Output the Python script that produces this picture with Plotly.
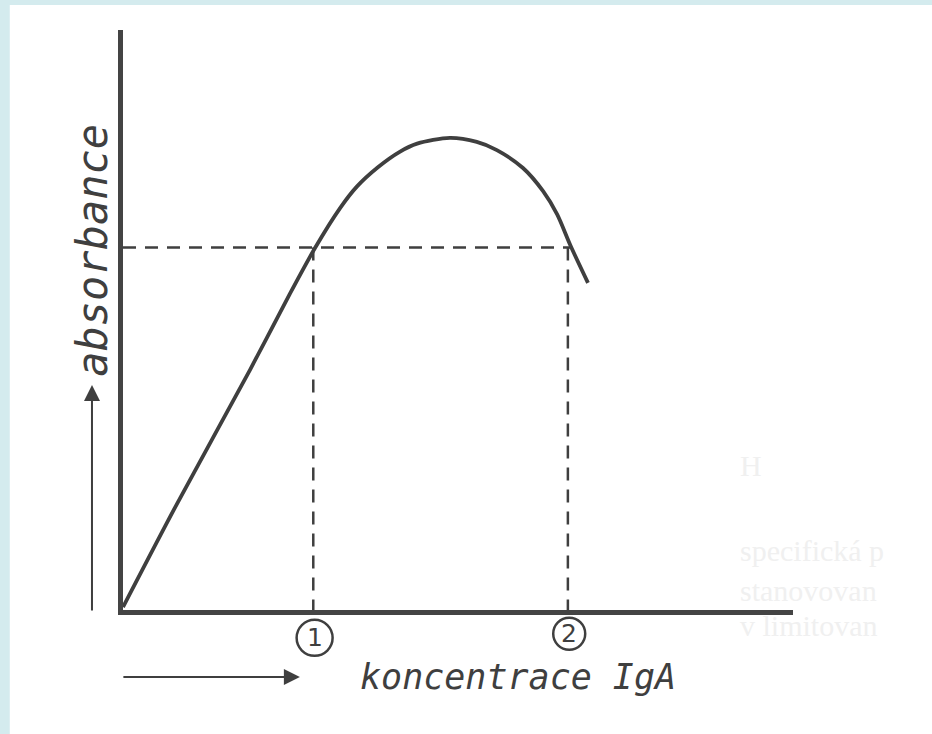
import plotly.graph_objects as go

# curve (concentration vs absorbance, arbitrary units)
conc = [0, 0.81, 1.90, 2.49, 2.87, 3.24, 3.49, 3.80, 4.13, 4.39, 4.88, 5.28, 5.58, 5.97, 6.27, 6.48, 6.68, 6.94]
absorb = [0.05, 1.84, 4.15, 5.45, 6.25, 6.93, 7.30, 7.63, 7.90, 8.04, 8.14, 8.07, 7.93, 7.62, 7.22, 6.82, 6.28, 5.64]

# the two concentrations giving the same absorbance
level = 6.25
point_x = [2.84, 6.64]
point_labels = ["1", "2"]

X_RANGE = [0, 10]
Y_RANGE = [0, 10]
PLOT_W, PLOT_H = 670, 580
ink = "#3f3f3f"


def xp(v):
    return (v - X_RANGE[0]) / (X_RANGE[1] - X_RANGE[0])


def yp(v):
    return (v - Y_RANGE[0]) / (Y_RANGE[1] - Y_RANGE[0])


fig = go.Figure()

# dashed guides
fig.add_trace(go.Scatter(
    x=[0, conc[-2]], y=[level, level], mode="lines",
    line=dict(color=ink, width=2.5, dash="13px,9px"), hoverinfo="skip",
))
for px_ in point_x:
    fig.add_trace(go.Scatter(
        x=[px_, px_], y=[level, 0], mode="lines",
        line=dict(color=ink, width=2.5, dash="13px,9px"), hoverinfo="skip",
    ))

fig.add_trace(go.Scatter(
    x=conc, y=absorb, mode="lines",
    line=dict(color=ink, width=3.8, shape="spline", smoothing=0.8),
))

shapes = [dict(type="rect", xref="paper", yref="paper",
               x0=-0.169, x1=1.21, y0=-0.22, y1=1.043,
               fillcolor="white", line=dict(width=0), layer="below")]

# circled numbers under the axis
for px_, lab, dy, r in zip(point_x, point_labels, [-0.48, -0.41], [18, 16]):
    cx, cy = xp(px_ + 0.02), yp(dy)
    shapes.append(dict(type="circle", xref="paper", yref="paper",
                       x0=cx - r / PLOT_W, x1=cx + r / PLOT_W,
                       y0=cy - r / PLOT_H, y1=cy + r / PLOT_H,
                       line=dict(color=ink, width=2.5)))
    fig.add_annotation(
        x=cx, y=cy, xref="paper", yref="paper", text=lab,
        xanchor="center", yanchor="middle", showarrow=False,
        font=dict(family="DejaVu Sans", size=25, color=ink),
    )

fig.update_layout(
    width=932, height=734,
    margin=dict(l=123, r=139, t=30, b=124),
    paper_bgcolor="#d4ebee",
    plot_bgcolor="white",
    showlegend=False,
    xaxis=dict(range=X_RANGE, showline=True, linewidth=5, linecolor="#444",
               showgrid=False, zeroline=False, showticklabels=False, ticks=""),
    yaxis=dict(range=Y_RANGE, showline=True, linewidth=5, linecolor="#444",
               showgrid=False, zeroline=False, showticklabels=False, ticks=""),
    shapes=shapes,
)

# axis labels with their arrows
fig.add_annotation(
    x=0.589, y=-0.116, xref="paper", yref="paper", text="<i>koncentrace IgA</i>",
    xanchor="center", yanchor="middle", showarrow=False,
    font=dict(family="DejaVu Sans Mono", size=35, color=ink),
)
fig.add_annotation(
    x=0.264, y=-0.1155, xref="paper", yref="paper", ax=-178, ay=0,
    showarrow=True, arrowhead=2, arrowsize=1.6, arrowwidth=2, arrowcolor=ink, text="",
)
fig.add_annotation(
    x=-0.0448, y=0.621, xref="paper", yref="paper", text="<i>absorbance</i>",
    xanchor="center", yanchor="middle", textangle=-90, showarrow=False,
    font=dict(family="DejaVu Sans Mono", size=42, color=ink),
)
fig.add_annotation(
    x=-0.0463, y=0.388, xref="paper", yref="paper", ax=0, ay=227,
    showarrow=True, arrowhead=2, arrowsize=1.6, arrowwidth=2, arrowcolor=ink, text="",
)

# faint show-through from the other side of the scanned page
ghost = ["H", "specifická p", "stanovovan", "v limitovan"]
ghost_y = [0.25, 0.103, 0.034, -0.026]
for t, gy in zip(ghost, ghost_y):
    fig.add_annotation(
        x=0.918, y=gy, xref="paper", yref="paper", text=t, showarrow=False,
        xanchor="left", yanchor="middle",
        font=dict(family="Liberation Serif", size=30, color="#f0f0f0"),
    )

fig.write_html("out.html", config={"displayModeBar": False},
               post_script="document.body.style.margin='0';")
